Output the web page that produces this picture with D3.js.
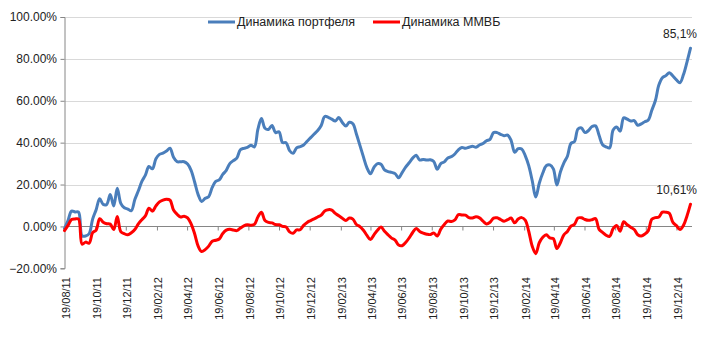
<!DOCTYPE html>
<html><head><meta charset="utf-8">
<script src="https://cdnjs.cloudflare.com/ajax/libs/d3/7.8.5/d3.min.js"></script>
<style>
html,body{margin:0;padding:0;background:#fff;}
svg{display:block;font-family:"Liberation Sans",Arial,sans-serif;}
</style></head>
<body>
<svg id="chart" width="705" height="355"></svg>
<script>
// ---- DATA (weekly, Fridays) ----
const dates = [
"2011-08-19","2011-08-26","2011-09-02","2011-09-09","2011-09-16","2011-09-23","2011-09-30","2011-10-07","2011-10-14","2011-10-21","2011-10-28",
"2011-11-04","2011-11-11","2011-11-18","2011-11-25","2011-12-02","2011-12-09","2011-12-16","2011-12-23","2011-12-30",
"2012-01-06","2012-01-13","2012-01-20","2012-01-27","2012-02-03","2012-02-10","2012-02-17","2012-02-24","2012-03-02","2012-03-09","2012-03-16","2012-03-23","2012-03-30",
"2012-04-06","2012-04-13","2012-04-20","2012-04-27","2012-05-04","2012-05-11","2012-05-18","2012-05-25","2012-06-01","2012-06-08","2012-06-15","2012-06-22","2012-06-29",
"2012-07-06","2012-07-13","2012-07-20","2012-07-27","2012-08-03","2012-08-10","2012-08-17","2012-08-24","2012-08-31","2012-09-07","2012-09-14","2012-09-21","2012-09-28",
"2012-10-05","2012-10-12","2012-10-19","2012-10-26","2012-11-02","2012-11-09","2012-11-16","2012-11-23","2012-11-30","2012-12-07","2012-12-14","2012-12-21","2012-12-28",
"2013-01-04","2013-01-11","2013-01-18","2013-01-25","2013-02-01","2013-02-08","2013-02-15","2013-02-22","2013-03-01","2013-03-08","2013-03-15","2013-03-22","2013-03-29",
"2013-04-05","2013-04-12","2013-04-19","2013-04-26","2013-05-03","2013-05-10","2013-05-17","2013-05-24","2013-05-31","2013-06-07","2013-06-14","2013-06-21","2013-06-28",
"2013-07-05","2013-07-12","2013-07-19","2013-07-26","2013-08-02","2013-08-09","2013-08-16","2013-08-23","2013-08-30","2013-09-06","2013-09-13","2013-09-20","2013-09-27",
"2013-10-04","2013-10-11","2013-10-18","2013-10-25","2013-11-01","2013-11-08","2013-11-15","2013-11-22","2013-11-29","2013-12-06","2013-12-13","2013-12-20","2013-12-27",
"2014-01-03","2014-01-10","2014-01-17","2014-01-24","2014-01-31","2014-02-07","2014-02-14","2014-02-21","2014-02-28","2014-03-07","2014-03-14","2014-03-21","2014-03-28",
"2014-04-04","2014-04-11","2014-04-18","2014-04-25","2014-05-02","2014-05-09","2014-05-16","2014-05-23","2014-05-30","2014-06-06","2014-06-13","2014-06-20","2014-06-27",
"2014-07-04","2014-07-11","2014-07-18","2014-07-25","2014-08-01","2014-08-08","2014-08-15","2014-08-22","2014-08-29","2014-09-05","2014-09-12","2014-09-19","2014-09-26",
"2014-10-03","2014-10-10","2014-10-17","2014-10-24","2014-10-31","2014-11-07","2014-11-14","2014-11-21","2014-11-28","2014-12-05","2014-12-12","2014-12-19","2014-12-26",
"2015-01-02","2015-01-09","2015-01-16"
];
const portfolio = [
-1.0,2.8,7.3,6.9,6.8,-4.5,-4.6,-3.5,3.5,8.0,13.2,
10.5,10.5,15.3,9.8,18.2,11.0,8.9,8.3,7.5,
12.8,17.0,21.5,24.5,28.6,27.5,32.3,34.4,35.0,36.0,37.3,33.0,30.9,
30.9,30.9,29.8,26.8,21.2,15.2,11.9,13.4,14.2,18.6,21.5,22.2,24.8,
26.8,30.0,31.4,32.6,36.6,37.3,37.7,38.8,38.0,46.5,51.5,46.9,46.3,
48.2,44.8,45.2,40.0,40.0,36.2,34.9,37.5,38.1,38.9,40.7,42.4,44.1,
45.8,48.2,52.5,52.1,51.2,50.3,52.0,49.6,47.9,49.7,49.0,44.1,38.7,
33.2,28.0,25.1,28.2,30.0,29.7,27.0,26.2,25.8,25.2,23.2,25.7,28.3,
30.4,32.6,34.0,31.7,32.0,31.7,31.8,31.0,27.3,30.0,30.8,32.7,33.3,
34.6,36.6,37.7,37.3,37.8,38.3,37.8,38.9,39.6,40.9,41.6,44.8,44.8,
44.0,43.3,43.6,41.0,35.4,37.1,37.0,33.8,29.0,21.8,14.0,20.6,25.5,
29.0,29.4,27.5,19.8,26.0,30.4,33.5,39.6,40.5,46.5,47.0,44.8,45.8,
47.7,48.0,43.5,39.0,38.0,37.5,46.0,47.5,45.5,51.8,51.2,50.3,50.5,
48.3,49.0,50.0,50.8,55.5,60.0,67.5,71.0,72.0,73.4,71.8,70.0,68.6,
72.5,78.5,85.1
];
const micex = [
-2.0,0.5,3.3,3.6,3.5,-8.5,-7.5,-8.0,-3.0,-1.8,3.7,
2.0,1.3,1.1,-1.5,4.7,-2.5,-3.5,-4.0,-3.0,
-1.5,1.2,3.2,5.0,8.7,7.3,9.8,11.7,12.6,13.0,12.6,7.8,5.8,
4.5,4.9,4.1,1.2,-3.5,-9.4,-12.0,-11.1,-9.4,-7.1,-6.6,-6.0,-3.4,
-1.8,-1.4,-1.7,-2.0,-0.8,0.3,0.8,0.6,1.0,4.5,6.8,2.8,1.9,
1.7,0.9,0.8,0.0,-0.3,-2.6,-3.3,-1.7,-1.6,0.5,1.9,2.8,3.6,
4.5,5.4,7.4,8.0,7.8,6.2,5.1,3.9,2.8,4.0,3.5,0.9,-0.1,
-1.8,-4.3,-6.3,-4.0,-1.8,-0.3,-2.3,-4.0,-5.6,-6.5,-8.9,-9.2,-7.7,
-5.5,-2.9,-1.0,-2.4,-3.2,-3.7,-3.9,-3.1,-4.6,-1.3,0.9,2.6,2.3,
3.1,5.6,5.5,5.4,4.2,4.0,4.6,4.1,2.5,1.2,2.0,4.0,4.1,
3.3,2.5,3.2,4.0,1.7,3.5,4.2,3.0,-2.3,-9.5,-13.0,-7.8,-5.2,
-4.0,-5.5,-5.8,-10.6,-7.8,-4.0,-2.4,0.1,1.0,4.0,4.1,3.3,2.9,
3.2,3.7,-1.4,-2.8,-4.2,-4.8,-1.1,0.4,-2.3,2.2,0.8,-0.4,-1.5,
-4.0,-4.6,-3.7,-2.0,3.4,4.2,4.5,6.8,6.8,6.2,1.9,0.4,-1.5,
0.5,5.0,10.61
];
const seriesNames = ["Динамика портфеля", "Динамика ММВБ"];
const seriesColors = ["#4a7ebb", "#ff0000"];
const yTicks = [-20, 0, 20, 40, 60, 80, 100];
const xTickLabels = ["19/08/11","19/10/11","19/12/11","19/02/12","19/04/12","19/06/12","19/08/12","19/10/12","19/12/12","19/02/13",
"19/04/13","19/06/13","19/08/13","19/10/13","19/12/13","19/02/14","19/04/14","19/06/14","19/08/14","19/10/14","19/12/14"];
const endLabels = ["85,1%", "10,61%"];

// ---- CHART ----
(function () {
const parse = d3.timeParse("%Y-%m-%d");
const parseTick = d3.timeParse("%d/%m/%y");
const D = dates.map(parse);
const svg = d3.select("#chart");
const pL = 64.5, pR = 690.5, pT = 17, pB = 268.3, gridRight = 692;
const x = d3.scaleTime().domain([D[0], D[D.length - 1]]).range([pL, pR]);
const y = d3.scaleLinear().domain([-20, 100]).range([pB, pT]);

// gridlines
svg.append("g").selectAll("line").data(yTicks.filter(t => t > 0)).join("line")
  .attr("x1", pL).attr("x2", gridRight)
  .attr("y1", d => Math.round(y(d)) + 0.5).attr("y2", d => Math.round(y(d)) + 0.5)
  .attr("stroke", "#d9d9d9").attr("stroke-width", 1);

// y axis
const yAxis = d3.axisLeft(y).tickValues(yTicks).tickSize(4).tickFormat(d => d3.format(".2f")(d) + "%");
const gy = svg.append("g").attr("transform", `translate(${Math.round(pL) - 0.5},0)`).call(yAxis);
gy.select(".domain").attr("stroke", "#868686");
gy.selectAll(".tick line").attr("stroke", "#868686");
gy.selectAll(".tick text").attr("font-size", "12px").attr("fill", "#222").attr("font-family", "Liberation Sans, Arial, sans-serif").attr("x", -7.5);

// x axis at 0
const y0 = Math.round(y(0)) + 0.5;
const tickDates = xTickLabels.map(parseTick);
const xAxis = d3.axisBottom(x).tickValues(tickDates).tickSize(4).tickFormat("");
const gx = svg.append("g").attr("transform", `translate(0,${y0})`).call(xAxis);
gx.select(".domain").attr("stroke", "#868686").attr("d", `M${pL},0H${gridRight}`);
gx.selectAll(".tick line").attr("stroke", "#868686");

// x labels, rotated, at bottom
svg.append("g").selectAll("text").data(xTickLabels).join("text")
  .attr("transform", (d, i) => `translate(${x(tickDates[i]) + 1.5},277) rotate(-90)`)
  .attr("text-anchor", "end").attr("dy", "0.35em")
  .attr("font-size", "11px").attr("fill", "#222")
  .text(d => d);

// lines
const line = d3.line().x((d, i) => x(D[i])).y(d => y(d)).curve(d3.curveCatmullRom.alpha(0.5));
[portfolio, micex].forEach((s, k) => {
  svg.append("path").datum(s).attr("d", line)
    .attr("fill", "none").attr("stroke", seriesColors[k]).attr("stroke-width", 3)
    .attr("stroke-linejoin", "round").attr("stroke-linecap", "round");
});

// end labels
const last = D.length - 1;
svg.append("text").attr("x", 697).attr("y", y(portfolio[last]) - 10)
  .attr("text-anchor", "end").attr("font-size", "12px").attr("fill", "#222").text(endLabels[0]);
svg.append("text").attr("x", 697).attr("y", y(micex[last]) - 10)
  .attr("text-anchor", "end").attr("font-size", "12px").attr("fill", "#222").text(endLabels[1]);

// legend
const legend = svg.append("g");
const legX = [208, 373];
seriesNames.forEach((n, i) => {
  legend.append("line").attr("x1", legX[i]).attr("x2", legX[i] + 27).attr("y1", 22).attr("y2", 22)
    .attr("stroke", seriesColors[i]).attr("stroke-width", 3);
  legend.append("text").attr("x", legX[i] + 29).attr("y", 22).attr("dy", "0.35em")
    .attr("font-size", "12.5px").attr("fill", "#222").text(n);
});
})();
</script>
</body></html>
